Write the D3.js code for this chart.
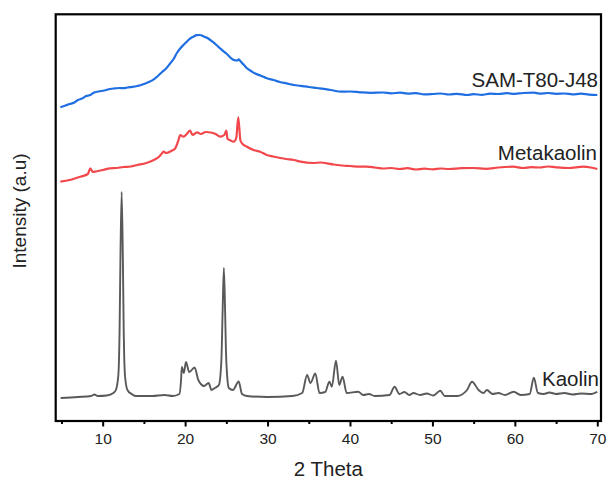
<!DOCTYPE html>
<html><head><meta charset="utf-8">
<script src="https://cdn.jsdelivr.net/npm/d3@7"></script>
<style>body{margin:0;background:#fff}svg{display:block}text{font-family:"Liberation Sans",Arial,sans-serif}</style>
</head><body>
<div id="chart"></div>
<script>
// 2-theta positions and intensities (a.u., including vertical offset of each trace)
const kaolinX = [4.9,7,8.6,9.0,9.4,10.5,11.3,11.6,11.9,12.05,12.15,12.3,12.45,12.55,12.7,13.0,13.5,14,16,17.5,18.5,19.3,19.5,19.6,19.85,20.1,20.5,21.15,21.6,22.3,22.85,23.2,23.6,24.1,24.4,24.55,24.7,24.85,24.95,25.1,25.3,25.8,26.5,26.9,27.5,30,33,34.2,34.8,35.2,35.8,36.3,37.0,37.5,37.8,38.3,38.7,39.1,39.6,41.0,41.6,42.3,43,44.8,45.4,46,46.6,47.2,47.7,48.5,49.3,50.1,50.95,51.5,53,54.2,54.8,55.6,56.2,56.6,57.3,58.0,58.8,59.85,60.7,61.8,62.3,62.8,63.5,64.2,65,66,67,68,69.3,70];
const kaolinY = [23,24,25,26.5,25,25.5,28,31,46,91,161,229,161,91,46,31,27,25,25,26,25,27,40,54,48,59,49,53.5,41,35,38,31,33,36,61,110,153,110,71,45,33,31,39.5,27,25,24,25,28,46,38,47.5,28,29,39.3,34.3,60.3,36,44.3,28,29.3,26,27,25,26,34.3,27,29,26,28,26,27.5,25.5,30.3,25,25,31,39.3,31,28,31,27,28,26,29.3,26,27,43.3,28,27,28.5,27,28,26.5,27.5,27,29.3];

const metaX = [4.86,6,7.3,8.2,8.5,8.8,9.2,10.0,10.9,11.7,12.5,13.4,14.2,15.3,16.2,16.8,17.2,17.4,17.7,18.3,18.8,19.2,19.4,19.8,20.2,20.6,20.9,21.45,21.9,22.5,23.25,23.7,24.25,24.75,25.0,25.15,25.4,25.9,26.2,26.45,26.7,26.9,27.5,28.3,29.1,29.9,30.7,31.5,32.3,33.2,34,35.5,36.5,37.2,38,39,40,41.25,42,43,44,45,46,47,48,49,50.1,51,52,53.5,55,56.5,58,59.8,61,62,63,64,65,66.5,68.3,69.2,70];
const metaY = [239.3,241,244.3,247,252.7,249,249.5,251,252.7,253,254,254.5,256,258,261,264,267.7,269.3,268,270,272.7,281,286,284.3,287,290.3,286,288.7,287,289,288.3,287,284.3,286,290.3,282,281,279.3,283,303.7,281,277.7,274.3,271,269.3,266,264.5,263,262,261,259.3,258,258.5,257.7,256.5,255.5,255,254.3,254.3,253.5,252.5,253,252,252.8,251.5,252.3,251.7,252.5,252,252.8,253,252.2,253.5,254.3,253,253.8,253.5,254.5,253.7,253,254.3,253.5,252];

const samX = [4.86,5.5,6,6.5,7,7.5,8,8.5,8.9,9.5,10.2,10.9,11.5,12,12.5,13,13.6,14.2,14.6,15,15.6,16.2,16.7,17.2,17.7,18.2,18.6,19,19.4,19.8,20.1,20.4,20.7,21.0,21.4,21.8,22.1,22.4,22.7,23.05,23.4,23.8,24.2,24.7,25.0,25.3,25.6,25.9,26.3,26.5,26.7,26.9,27.2,27.5,28,28.5,29.2,29.9,30.7,31.5,32.3,33.2,34,35,36,37.2,38,38.9,40,41.25,42.5,44,45,46.1,47,48,49,50,51,52,53,54.2,55,56,57,58,59,60,61,62.3,63,64,65,66,67,68,69,70];
const samY = [313.7,315.5,317,318.2,321,322.5,325,326,328.3,329.5,330.5,332,332.6,333,332.8,333.5,334.1,335,335.8,337,339,341.7,345,349,352.6,357.7,362,368,372.5,376,378.5,381,383,384.3,385.8,386,385.2,384,383,381,378.8,376,373,369.3,367.5,365,362.6,361,360.5,361.7,360,358,355.5,352.7,350,347.5,345.3,342.7,341,339,337.6,336,335.2,334,333,331.7,330.5,329.3,329.5,328.7,328.2,328.5,327.7,328.3,327.4,327.8,326.7,327,327.5,326.5,327.2,326,326.8,326.2,327.3,327,327.8,327.1,328,328.3,327.4,328,327.2,327.5,326.6,327.3,326.4,326];

const seriesNames = ["SAM-T80-J48","Metakaolin","Kaolin"];
const seriesColors = ["#1f6fe3","#f2484c","#595959"];
const xTicksMajor = [10,20,30,40,50,60,70];
const xTicksMinor = [5,15,25,35,45,55,65];
const xTitle = "2 Theta";
const yTitle = "Intensity (a.u)";

const W = 609, H = 480;
const m = {left: 55.7, right: 8, top: 14.3, bottom: 59};
const x = d3.scaleLinear().domain([4.3, 70.45]).range([m.left, W - m.right]);
const y = d3.scaleLinear().domain([0, 406.7]).range([H - m.bottom, m.top]);

const svg = d3.select("#chart").append("svg").attr("width", W).attr("height", H);
svg.append("defs").append("clipPath").attr("id","clip").append("rect")
  .attr("x", m.left).attr("y", m.top).attr("width", W - m.right - m.left).attr("height", H - m.bottom - m.top);

const line = d3.line().x(d => x(d[0])).y(d => y(d[1])).curve(d3.curveMonotoneX);
const data = [
  d3.zip(samX, samY),
  d3.zip(metaX, metaY),
  d3.zip(kaolinX, kaolinY)
];
const g = svg.append("g").attr("clip-path","url(#clip)");
data.forEach((d, i) => {
  g.append("path").datum(d).attr("d", line).attr("fill","none")
    .attr("stroke", seriesColors[i]).attr("stroke-width", i === 2 ? 1.9 : 2.2)
    .attr("stroke-linejoin","round");
});

// axes
const xAxis = d3.axisBottom(x).tickValues(xTicksMajor).tickSize(5.5).tickPadding(6).tickFormat(d3.format("d"));
const ax = svg.append("g").attr("transform", `translate(0,${H - m.bottom})`).call(xAxis);
ax.select(".domain").remove();
ax.selectAll(".tick line").attr("stroke","#000").attr("stroke-width",2);
ax.selectAll(".tick text").attr("font-size","15.5px").attr("fill","#222")
  .attr("font-family",'"Liberation Sans",Arial,sans-serif');
const axMinor = svg.append("g").attr("transform", `translate(0,${H - m.bottom})`)
  .call(d3.axisBottom(x).tickValues(xTicksMinor).tickSize(3).tickFormat(""));
axMinor.select(".domain").remove();
axMinor.selectAll(".tick line").attr("stroke","#000").attr("stroke-width",2);

// frame
svg.append("rect").attr("x", m.left).attr("y", m.top)
  .attr("width", W - m.right - m.left).attr("height", H - m.bottom - m.top)
  .attr("fill","none").attr("stroke","#000").attr("stroke-width",2.2);

// titles
svg.append("text").attr("x", (m.left + W - m.right)/2).attr("y", 476)
  .attr("text-anchor","middle").attr("font-size","20.5px").attr("fill","#222").text(xTitle);
svg.append("text").attr("transform", `translate(26,${211}) rotate(-90)`)
  .attr("text-anchor","middle").attr("font-size","19px").attr("fill","#222").text(yTitle);

// series labels
const labelPos = [[598, 86.7],[597, 160],[599, 386]];
seriesNames.forEach((n, i) => {
  svg.append("text").attr("x", labelPos[i][0]).attr("y", labelPos[i][1])
    .attr("text-anchor","end").attr("font-size","20.5px").attr("fill","#222").text(n);
});
</script>
</body></html>
